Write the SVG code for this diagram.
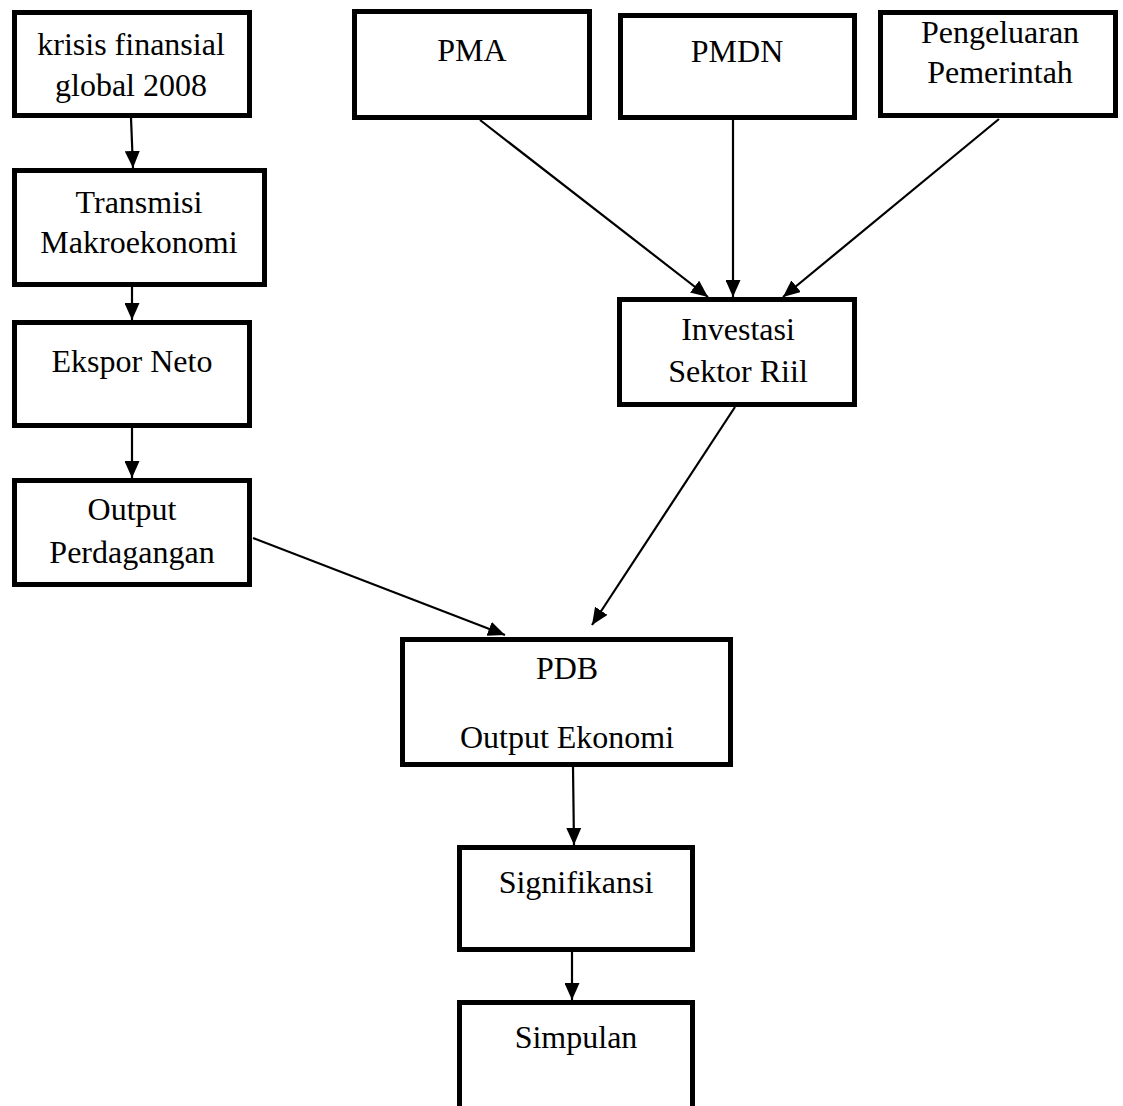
<svg xmlns="http://www.w3.org/2000/svg" width="1123" height="1106" viewBox="0 0 1123 1106">
<style>
.box{fill:#fff;stroke:#000;stroke-width:5}
.t{font-family:"Liberation Serif","Times New Roman",serif;font-size:32px;fill:#000;text-anchor:middle}
.c{stroke:#000;stroke-width:2.2;fill:none;marker-end:url(#ah)}
</style>
<defs>
<marker id="ah" markerUnits="userSpaceOnUse" markerWidth="17" markerHeight="15" refX="17" refY="7.5" orient="auto">
<path d="M0,0 L17,7.5 L0,15 z" fill="#000"/>
</marker>
</defs>
<rect width="1123" height="1106" fill="#fff"/>
<g id="connectors">
<line class="c" x1="131" y1="118" x2="133" y2="168"/>
<line class="c" x1="132" y1="287" x2="132" y2="320"/>
<line class="c" x1="132" y1="428" x2="132" y2="478"/>
<line class="c" x1="253" y1="538" x2="505" y2="635"/>
<line class="c" x1="480" y1="120" x2="708" y2="297"/>
<line class="c" x1="733" y1="120" x2="733" y2="297"/>
<line class="c" x1="999" y1="119" x2="783" y2="297"/>
<line class="c" x1="735" y1="407" x2="592" y2="625"/>
<line class="c" x1="573" y1="767" x2="574" y2="845"/>
<line class="c" x1="572" y1="952" x2="572" y2="1000"/>
</g>
<g id="krisis"><rect class="box" x="14.5" y="12.5" width="235" height="103"/><text class="t" x="131" y="55">krisis finansial</text><text class="t" x="131" y="96">global 2008</text></g>
<g id="transmisi"><rect class="box" x="14.5" y="170.5" width="250" height="114"/><text class="t" x="139" y="213">Transmisi</text><text class="t" x="139" y="253">Makroekonomi</text></g>
<g id="ekspor"><rect class="box" x="14.5" y="322.5" width="235" height="103"/><text class="t" x="132" y="372">Ekspor Neto</text></g>
<g id="output-perdagangan"><rect class="box" x="14.5" y="480.5" width="235" height="104"/><text class="t" x="132" y="520">Output</text><text class="t" x="132" y="563">Perdagangan</text></g>
<g id="pma"><rect class="box" x="354.5" y="11.5" width="235" height="106"/><text class="t" x="472" y="61">PMA</text></g>
<g id="pmdn"><rect class="box" x="620.5" y="15.5" width="234" height="102"/><text class="t" x="737" y="62">PMDN</text></g>
<g id="pengeluaran"><rect class="box" x="880.5" y="12.5" width="235" height="103"/><text class="t" x="1000" y="43">Pengeluaran</text><text class="t" x="1000" y="83">Pemerintah</text></g>
<g id="investasi"><rect class="box" x="619.5" y="299.5" width="235" height="105"/><text class="t" x="738" y="340">Investasi</text><text class="t" x="738" y="382">Sektor Riil</text></g>
<g id="pdb"><rect class="box" x="402.5" y="639.5" width="328" height="125"/><text class="t" x="567" y="679">PDB</text><text class="t" x="567" y="748">Output Ekonomi</text></g>
<g id="signifikansi"><rect class="box" x="459.5" y="847.5" width="233" height="102"/><text class="t" x="576" y="893">Signifikansi</text></g>
<g id="simpulan"><rect class="box" x="459.5" y="1002.5" width="233" height="120"/><text class="t" x="576" y="1048">Simpulan</text></g>
</svg>
